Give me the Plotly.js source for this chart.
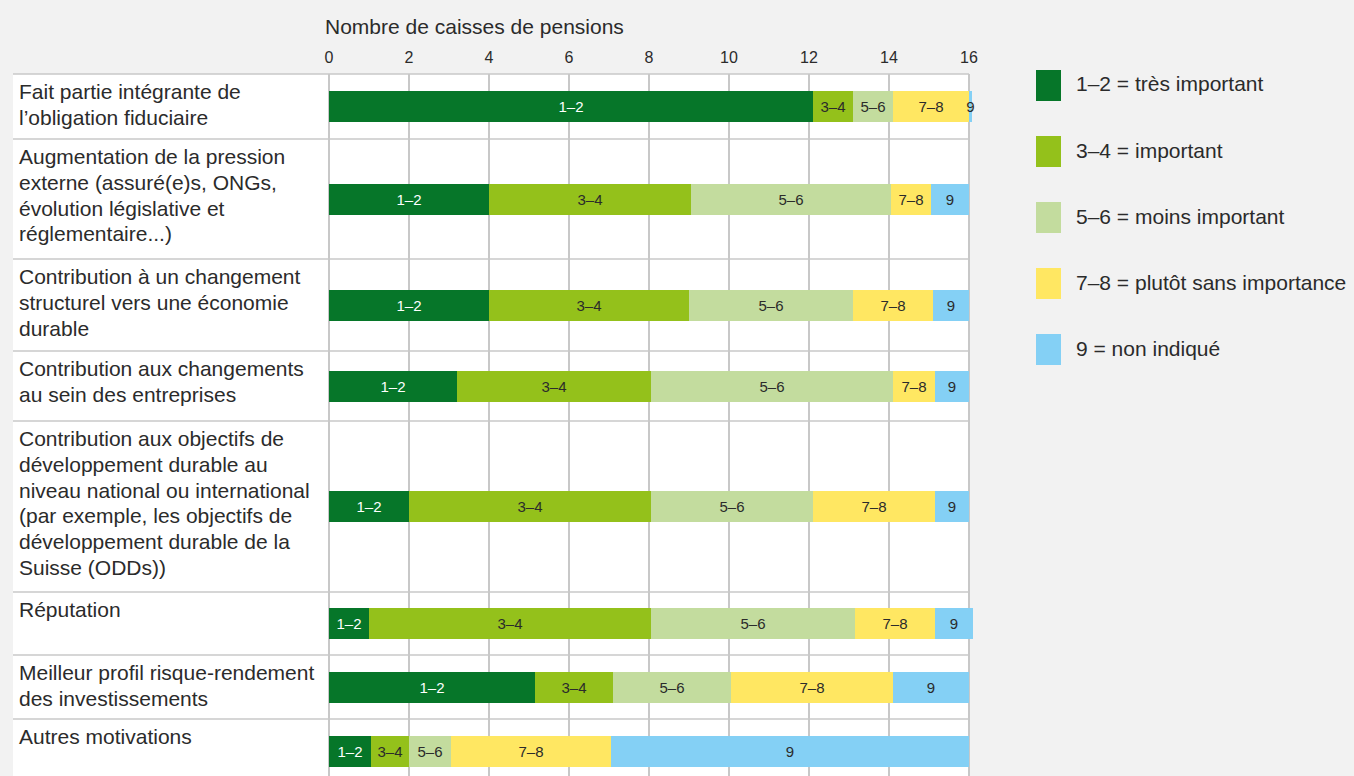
<!DOCTYPE html>
<html><head><meta charset="utf-8">
<script src="https://cdn.plot.ly/plotly-3.0.1.min.js"></script>
<style>html,body{margin:0;padding:0;background:#f2f2f2;}#chart{width:1354px;height:776px;}</style>
</head><body><div id="chart"></div>
<script>
// ---- data ----
const categories = [
  "Fait partie intégrante de<br>l’obligation fiduciaire",
  "Augmentation de la pression<br>externe (assuré(e)s, ONGs,<br>évolution législative et<br>réglementaire...)",
  "Contribution à un changement<br>structurel vers une économie<br>durable",
  "Contribution aux changements<br>au sein des entreprises",
  "Contribution aux objectifs de<br>développement durable au<br>niveau national ou international<br>(par exemple, les objectifs de<br>développement durable de la<br>Suisse (ODDs))",
  "Réputation",
  "Meilleur profil risque-rendement<br>des investissements",
  "Autres motivations"
];
const seriesNames = ["1–2", "3–4", "5–6", "7–8", "9"];
const legendLabels = ["1–2 = très important", "3–4 = important", "5–6 = moins important", "7–8 = plutôt sans importance", "9 = non indiqué"];
const v12 = [12.1, 4, 4, 3.2, 2, 1, 5.15, 1.05];
const v34 = [1, 5.05, 5, 4.85, 6.05, 7.05, 1.95, 0.95];
const v56 = [1, 5, 4.1, 6.05, 4.05, 5.1, 2.95, 1.05];
const v78 = [1.9, 1, 2, 1.05, 3.05, 2, 4.05, 4];
const v9  = [0.07, 0.95, 0.9, 0.85, 0.85, 0.95, 1.9, 8.95];
const xTicks = [0, 2, 4, 6, 8, 10, 12, 14, 16];
const axisTitle = "Nombre de caisses de pensions";

// ---- style / layout ----
const colors = ["#067629", "#94c11b", "#c3dc9e", "#ffe762", "#84d0f5"];
const textColors = ["#ffffff", "#2b2b2b", "#2b2b2b", "#2b2b2b", "#2b2b2b"];
const rowHeights = [65, 120, 92, 70, 171, 63, 64, 64];
const FONT = "Liberation Sans, Arial, Helvetica, sans-serif";
const TXT = "#2b2b2b";
const GRID = "#c8c8c8";
const BIG = 21;
const W = 1354, H = 776, L = 329, T = 74, XMAX = 16.15, PPU = 40;
const PW = XMAX * PPU, PH = H - T;
const R = W - L - PW;
const px = p => (p - L) / PW;
const py = p => 1 - (p - T) / PH;

const tops = [];
let acc = 0;
rowHeights.forEach(h => { tops.push(acc); acc += h; });
const centers = tops.map((t, i) => t + rowHeights[i] / 2);

const values = [v12, v34, v56, v78, v9];
const traces = values.map((vals, k) => ({
  type: "bar", orientation: "h",
  x: vals, y: centers, width: 31,
  name: seriesNames[k],
  marker: {color: colors[k], line: {width: 0}},
  text: vals.map(() => seriesNames[k]),
  textposition: "inside", insidetextanchor: "middle", textangle: 0,
  textfont: {family: FONT, size: 15, color: textColors[k]},
  hoverinfo: "x+name", showlegend: false
}));

const shapes = [];
const annotations = [];
shapes.push({type: "rect", xref: "paper", yref: "paper", x0: px(13), x1: px(969), y0: 0, y1: 1,
  fillcolor: "#ffffff", line: {width: 0}, layer: "below"});
tops.forEach(t => {
  shapes.push({type: "line", xref: "paper", yref: "paper", x0: px(13), x1: px(969), y0: py(T + t), y1: py(T + t),
    line: {color: GRID, width: 1.5}, layer: "below"});
});
categories.forEach((c, i) => {
  c.split("<br>").forEach((line, j) => {
    annotations.push({xref: "paper", yref: "paper", x: px(17), y: py(T + tops[i] + 17.5 + j * 25.8),
      xanchor: "left", yanchor: "middle", showarrow: false, text: line,
      font: {family: FONT, size: BIG, color: TXT}});
  });
});
annotations.push({xref: "paper", yref: "paper", x: px(323), y: py(27), xanchor: "left", yanchor: "middle",
  showarrow: false, text: axisTitle, font: {family: FONT, size: BIG, color: TXT}});
legendLabels.forEach((lab, k) => {
  const cy = 85.5 + k * 66;
  shapes.push({type: "rect", xref: "paper", yref: "paper", x0: px(1036), x1: px(1061), y0: py(cy - 15.5), y1: py(cy + 15.5),
    fillcolor: colors[k], line: {width: 0}});
  annotations.push({xref: "paper", yref: "paper", x: px(1074), y: py(cy - 1.5), xanchor: "left", yanchor: "middle",
    showarrow: false, text: lab, font: {family: FONT, size: BIG, color: TXT}});
});

const layout = {
  width: W, height: H,
  margin: {l: L, r: R, t: T, b: 0, pad: 0},
  paper_bgcolor: "#f2f2f2", plot_bgcolor: "rgba(0,0,0,0)",
  barmode: "stack", bargap: 0,
  uniformtext: {mode: "show", minsize: 15},
  xaxis: {range: [0, XMAX], side: "top", tickvals: xTicks, ticktext: xTicks.map(String), ticks: "",
    ticklabelstandoff: 7,
    showgrid: true, gridcolor: GRID, gridwidth: 1.5, zeroline: true, zerolinecolor: GRID, zerolinewidth: 1.5,
    showline: false, tickfont: {family: FONT, size: 16, color: TXT}, fixedrange: true},
  yaxis: {range: [PH, 0], showgrid: false, zeroline: false, showticklabels: false, ticks: "", fixedrange: true},
  shapes: shapes, annotations: annotations,
  showlegend: false, font: {family: FONT, color: TXT}
};
Plotly.newPlot("chart", traces, layout, {displayModeBar: false, staticPlot: true});
</script></body></html>
